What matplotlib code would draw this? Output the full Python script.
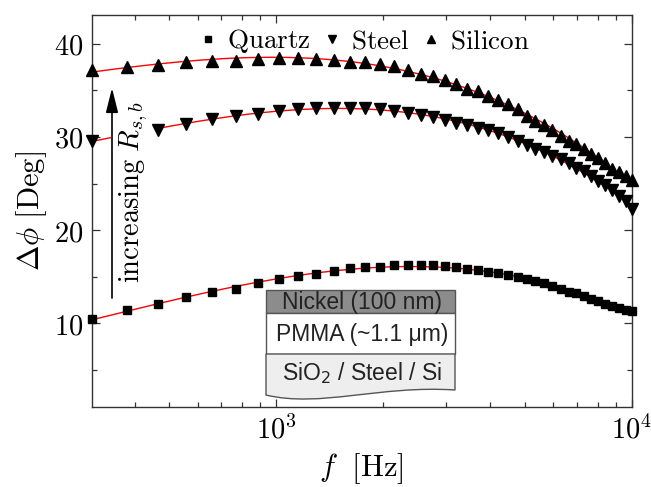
import numpy as np
import matplotlib
matplotlib.use("Agg")
import matplotlib.pyplot as plt
from matplotlib.patches import Rectangle, PathPatch
from matplotlib.path import Path
from matplotlib.ticker import LogLocator, NullFormatter, MultipleLocator, FixedLocator, FixedFormatter

plt.rcParams['mathtext.fontset'] = 'cm'

# ---------------- data ----------------
freq = [303, 379, 464, 557, 658, 769, 887, 1015, 1151, 1295, 1448, 1609, 1779, 1958,
        2145, 2340, 2544, 2757, 2978, 3208, 3446, 3693, 3948, 4212, 4484, 4765, 5054,
        5352, 5658, 5973, 6297, 6629, 6969, 7318, 7676, 8042, 8416, 8800, 9191, 9592, 10000]

quartz = [10.4, 11.4, 12.1, 12.8, 13.4, 13.7, 14.3, 14.7, 15.05, 15.3,
          15.6, 15.9, 16.0, 16.05, 16.2, 16.2, 16.2, 16.2, 16.15, 16.0,
          15.8, 15.7, 15.55, 15.4, 15.2, 15.0, 14.7, 14.5, 14.3, 14.0,
          13.7, 13.4, 13.2, 12.9, 12.65, 12.4, 12.1, 11.9, 11.6, 11.4, 11.3]

steel = [29.6, np.nan, 30.8, 31.4, 31.9, 32.3, 32.5, 32.8, 33.0, 33.1,
         33.15, 33.15, 33.1, 33.0, 32.8, 32.6, 32.4, 32.1, 31.8, 31.5,
         31.3, 31.0, 30.7, 30.45, 30.0, 29.55, 29.1, 28.7, 28.4, 28.0,
         27.6, 27.2, 26.7, 26.3, 25.8, 25.3, 24.8, 24.3, 23.7, 23.1, 22.3]

silicon = [37.2, 37.5, 37.7, 38.1, 38.2, 38.2, 38.4, 38.5, 38.5, 38.4,
           38.3, 38.1, 38.0, 37.85, 37.6, 37.2, 36.8, 36.5, 36.1, 35.7,
           35.2, 34.9, 34.4, 34.0, 33.5, 33.0, 32.3, 31.75, 31.25, 30.7,
           30.1, 29.6, 29.2, 28.7, 28.2, 27.7, 27.2, 26.6, 26.2, 25.8, 25.4]

series_names = ["Quartz", "Steel", "Silicon"]
series_markers = ["s", "v", "^"]

xticks = [1e3, 1e4]
xticklabels = [r"$10^3$", r"$10^4$"]
yticks = [10, 20, 30, 40]
yticklabels = [r"$10$", r"$20$", r"$30$", r"$40$"]

W, H = 651, 487
fig = plt.figure(figsize=(W / 100, H / 100), dpi=100)
ax = fig.add_axes([92 / W, 1 - 407 / H, 540 / W, 392 / H])

f = np.array(freq, dtype=float)
fgrid = np.logspace(np.log10(f[0]), 4, 300)

for name, mk, vals in zip(series_names, series_markers, [quartz, steel, silicon]):
    y = np.array(vals, dtype=float)
    ok = ~np.isnan(y)
    coef = np.polyfit(np.log10(f[ok]), y[ok], 3)
    ax.plot(fgrid, np.polyval(coef, np.log10(fgrid)), color="red", lw=1.0, zorder=2)
    ms = 6 if mk == "s" else 8.5
    ax.plot(f, y, linestyle="none", marker=mk, color="black", ms=ms,
            label=r"$\mathrm{%s}$" % name, zorder=3, clip_on=False)

ax.set_xscale("log")
ax.set_xlim(f[0], 1e4)
ax.set_ylim(1.0, 43.1)

ax.xaxis.set_major_locator(FixedLocator(xticks))
ax.xaxis.set_major_formatter(FixedFormatter(xticklabels))
ax.xaxis.set_minor_locator(LogLocator(base=10, subs=np.arange(2, 10), numticks=20))
ax.xaxis.set_minor_formatter(NullFormatter())
ax.yaxis.set_major_locator(FixedLocator(yticks))
ax.yaxis.set_major_formatter(FixedFormatter(yticklabels))
ax.yaxis.set_minor_locator(MultipleLocator(5))

spc = "#333333"
for s in ax.spines.values():
    s.set_color(spc)
    s.set_linewidth(1.0)
ax.tick_params(which="both", direction="in", top=True, right=True, color=spc, width=0.9)
ax.tick_params(which="major", length=6, labelsize=20.5, pad=6)
ax.tick_params(which="minor", length=3.5)

ax.set_xlabel(r"$f\ \ [\mathrm{Hz}]$", fontsize=22)
ax.set_ylabel(r"$\Delta\phi\ [\mathrm{Deg}]$", fontsize=22)
ax.xaxis.set_label_coords((361 - 92) / 540, (407 - 469) / 392)
ax.xaxis.label.set_va("center")
ax.yaxis.set_label_coords((32 - 92) / 540, 0.5)
ax.yaxis.label.set_va("center")

leg = ax.legend(loc="upper center", bbox_to_anchor=(0.505, 1.01), ncol=3, frameon=False,
                fontsize=19.5, markerscale=0.7, handlelength=0.6, handletextpad=0.4,
                columnspacing=0.5, borderaxespad=0.2)

# helper: image pixel coords (top-left origin) -> figure fraction
def P(x, y):
    return (x / W, 1 - y / H)

tf = fig.transFigure

# white mask behind annotation
x0, y0 = P(111, 300)
x1, y1 = P(157, 80)
ax.add_patch(Rectangle((x0, y0), x1 - x0, y1 - y0, transform=tf, facecolor="white",
                       edgecolor="none", zorder=2.5, clip_on=False))

ax.annotate("", xy=(112, H - 88), xycoords="figure pixels",
            xytext=(112, H - 298), textcoords="figure pixels",
            arrowprops=dict(arrowstyle="-|>,head_length=0.6,head_width=0.15",
                            color="black", lw=1.2, mutation_scale=25, shrinkA=0, shrinkB=0),
            zorder=4)
fig.text(*P(134, 192), r"$\mathrm{increasing}\ R_{s,b}$", rotation=90, ha="center",
         va="center", fontsize=20.5, zorder=5)

# layer schematic
edge = "#555555"
L, R = 266, 455
xa, ya = P(L, 313)
xb, yb = P(R, 290)
ax.add_patch(Rectangle((xa, ya), xb - xa, yb - ya, transform=tf, facecolor="#8c8c8c",
                       edgecolor=edge, lw=1.0, zorder=5, clip_on=False))
xa, ya = P(L, 354)
xb, yb = P(R, 313)
ax.add_patch(Rectangle((xa, ya), xb - xa, yb - ya, transform=tf, facecolor="white",
                       edgecolor=edge, lw=1.0, zorder=5, clip_on=False))
verts = [P(L, 354), P(R, 354), P(R, 390), P(380, 385), P(320, 408), P(L, 395), P(L, 354)]
codes = [Path.MOVETO, Path.LINETO, Path.LINETO, Path.CURVE4, Path.CURVE4, Path.CURVE4, Path.CLOSEPOLY]
ax.add_patch(PathPatch(Path(verts, codes), transform=tf, facecolor="#eeeeee",
                       edgecolor=edge, lw=1.0, zorder=5, clip_on=False))

tc = "#222222"
sans = ["Liberation Sans", "DejaVu Sans"]
fig.text(*P(362, 302), "Nickel (100 nm)", ha="center", va="center", fontsize=16.5,
         color=tc, family=sans, zorder=6)
fig.text(*P(362, 334), "PMMA (~1.1 μm)", ha="center", va="center", fontsize=16.5,
         color=tc, family=sans, zorder=6)
fig.text(*P(362, 373), r"SiO$_2$ / Steel / Si", ha="center", va="center", fontsize=16.5,
         color=tc, family=sans, math_fontfamily="dejavusans", zorder=6)

fig.savefig("out.png", dpi=100)
